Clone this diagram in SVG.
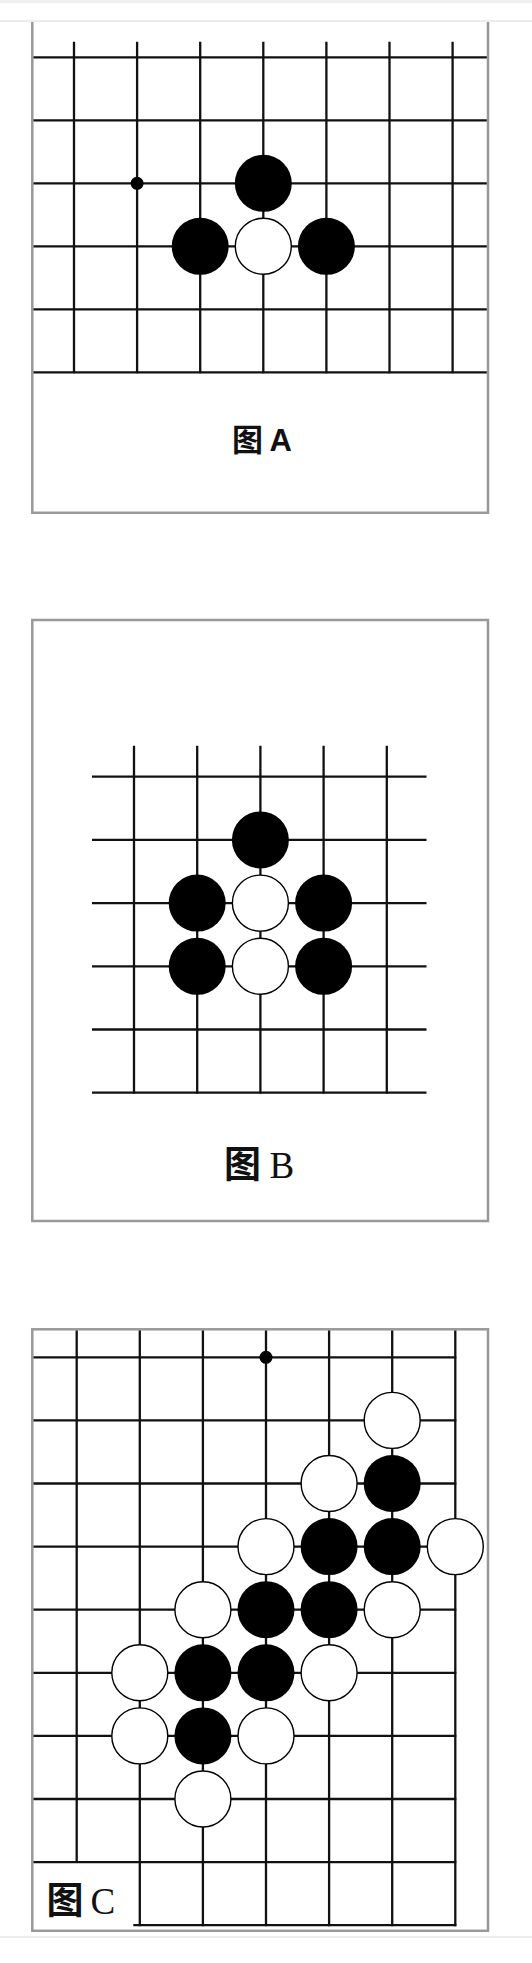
<svg xmlns="http://www.w3.org/2000/svg" width="532" height="1963" viewBox="0 0 532 1963">
<style>
.frame{fill:none;stroke:#999;stroke-width:2.5}
.sep{stroke:#dcdcdc;stroke-width:1.2}
.grid line{stroke:#111;stroke-width:2.3}
.b{fill:#000}
.w{fill:#fff;stroke:#000;stroke-width:1.4}
.star{fill:#000}
.cjk{font-family:"Noto Sans CJK SC","Noto Sans CJK JP",sans-serif;font-weight:bold;fill:#111}
.sans{font-family:"Liberation Sans",Arial,sans-serif;font-weight:bold;fill:#111}
.serif{font-family:"Liberation Serif","Times New Roman",serif;fill:#111}
</style>
<rect x="0" y="0" width="532" height="1963" fill="#fff"/>
<rect x="0" y="0" width="532" height="3.5" fill="#f0f0f0"/>
<line class="sep" x1="0" y1="21" x2="532" y2="21"/>
<line class="sep" x1="0" y1="1937" x2="532" y2="1937"/>

<g id="panelA">
  <path class="frame" d="M32.3,22 V512.7 H488 V22"/>
  <g class="grid">
    <line x1="33.5" y1="57.3" x2="486.8" y2="57.3"/>
    <line x1="33.5" y1="120.3" x2="486.8" y2="120.3"/>
    <line x1="33.5" y1="183.3" x2="486.8" y2="183.3"/>
    <line x1="33.5" y1="246.3" x2="486.8" y2="246.3"/>
    <line x1="33.5" y1="309.3" x2="486.8" y2="309.3"/>
    <line x1="33.5" y1="372.3" x2="486.8" y2="372.3"/>
    <line x1="74" y1="41.7" x2="74" y2="373.3"/>
    <line x1="137.1" y1="41.7" x2="137.1" y2="373.3"/>
    <line x1="200.2" y1="41.7" x2="200.2" y2="373.3"/>
    <line x1="263.3" y1="41.7" x2="263.3" y2="373.3"/>
    <line x1="326.4" y1="41.7" x2="326.4" y2="373.3"/>
    <line x1="389.5" y1="41.7" x2="389.5" y2="373.3"/>
    <line x1="452.6" y1="41.7" x2="452.6" y2="373.3"/>
  </g>
  <circle class="star" cx="137.1" cy="183.3" r="6.5"/>
  <g id="stonesA">
    <circle class="b" cx="263.3" cy="183.3" r="28.5"/>
    <circle class="b" cx="200.2" cy="246.3" r="28.5"/>
    <circle class="w" cx="263.3" cy="246.3" r="28"/>
    <circle class="b" cx="326.4" cy="246.3" r="28.5"/>
  </g>
  <text id="labelA" x="232" y="450.5" font-size="31"><tspan class="cjk">图</tspan><tspan class="sans" x="269.5">A</tspan></text>
</g>

<g id="panelB">
  <rect class="frame" x="32.3" y="620" width="455.7" height="601"/>
  <g class="grid">
    <line x1="92" y1="776.7" x2="426.5" y2="776.7"/>
    <line x1="92" y1="839.9" x2="426.5" y2="839.9"/>
    <line x1="92" y1="903.1" x2="426.5" y2="903.1"/>
    <line x1="92" y1="966.3" x2="426.5" y2="966.3"/>
    <line x1="92" y1="1029.5" x2="426.5" y2="1029.5"/>
    <line x1="92" y1="1092.7" x2="426.5" y2="1092.7"/>
    <line x1="134" y1="745.7" x2="134" y2="1093.7"/>
    <line x1="197.2" y1="745.7" x2="197.2" y2="1093.7"/>
    <line x1="260.4" y1="745.7" x2="260.4" y2="1093.7"/>
    <line x1="323.6" y1="745.7" x2="323.6" y2="1093.7"/>
    <line x1="386.8" y1="745.7" x2="386.8" y2="1093.7"/>
  </g>
  <g id="stonesB">
    <circle class="b" cx="260.4" cy="839.9" r="28.5"/>
    <circle class="b" cx="197.2" cy="903.1" r="28.5"/>
    <circle class="w" cx="260.4" cy="903.1" r="28"/>
    <circle class="b" cx="323.6" cy="903.1" r="28.5"/>
    <circle class="b" cx="197.2" cy="966.3" r="28.5"/>
    <circle class="w" cx="260.4" cy="966.3" r="28"/>
    <circle class="b" cx="323.6" cy="966.3" r="28.5"/>
  </g>
  <text id="labelB" x="224" y="1178.3" font-size="37"><tspan class="cjk">图</tspan><tspan class="serif" x="269.5">B</tspan></text>
</g>

<g id="panelC">
  <rect class="frame" x="32.3" y="1329.3" width="455.7" height="601.5"/>
  <g class="grid">
    <line x1="33.5" y1="1357.3" x2="456.3" y2="1357.3"/>
    <line x1="33.5" y1="1420.4" x2="456.3" y2="1420.4"/>
    <line x1="33.5" y1="1483.5" x2="456.3" y2="1483.5"/>
    <line x1="33.5" y1="1546.6" x2="456.3" y2="1546.6"/>
    <line x1="33.5" y1="1609.7" x2="456.3" y2="1609.7"/>
    <line x1="33.5" y1="1672.8" x2="456.3" y2="1672.8"/>
    <line x1="33.5" y1="1735.9" x2="456.3" y2="1735.9"/>
    <line x1="33.5" y1="1799" x2="456.3" y2="1799"/>
    <line x1="33.5" y1="1862.1" x2="456.3" y2="1862.1"/>
    <line x1="133.3" y1="1925.2" x2="456.3" y2="1925.2"/>
    <line x1="76.7" y1="1330.5" x2="76.7" y2="1863.1"/>
    <line x1="139.8" y1="1330.5" x2="139.8" y2="1926.2"/>
    <line x1="202.9" y1="1330.5" x2="202.9" y2="1926.2"/>
    <line x1="266" y1="1330.5" x2="266" y2="1926.2"/>
    <line x1="329.1" y1="1330.5" x2="329.1" y2="1926.2"/>
    <line x1="392.2" y1="1330.5" x2="392.2" y2="1926.2"/>
    <line x1="455.3" y1="1330.5" x2="455.3" y2="1926.2"/>
  </g>
  <circle class="star" cx="266" cy="1357.3" r="6.5"/>
  <g id="stonesC">
    <circle class="w" cx="392.2" cy="1420.4" r="28"/>
    <circle class="w" cx="329.1" cy="1483.5" r="28"/>
    <circle class="b" cx="392.2" cy="1483.5" r="28.5"/>
    <circle class="w" cx="266" cy="1546.6" r="28"/>
    <circle class="b" cx="329.1" cy="1546.6" r="28.5"/>
    <circle class="b" cx="392.2" cy="1546.6" r="28.5"/>
    <circle class="w" cx="455.3" cy="1546.6" r="28"/>
    <circle class="w" cx="202.9" cy="1609.7" r="28"/>
    <circle class="b" cx="266" cy="1609.7" r="28.5"/>
    <circle class="b" cx="329.1" cy="1609.7" r="28.5"/>
    <circle class="w" cx="392.2" cy="1609.7" r="28"/>
    <circle class="w" cx="139.8" cy="1672.8" r="28"/>
    <circle class="b" cx="202.9" cy="1672.8" r="28.5"/>
    <circle class="b" cx="266" cy="1672.8" r="28.5"/>
    <circle class="w" cx="329.1" cy="1672.8" r="28"/>
    <circle class="w" cx="139.8" cy="1735.9" r="28"/>
    <circle class="b" cx="202.9" cy="1735.9" r="28.5"/>
    <circle class="w" cx="266" cy="1735.9" r="28"/>
    <circle class="w" cx="202.9" cy="1799" r="28"/>
  </g>
  <text id="labelC" x="46.5" y="1914" font-size="37"><tspan class="cjk">图</tspan><tspan class="serif" x="90.5">C</tspan></text>
</g>
</svg>
